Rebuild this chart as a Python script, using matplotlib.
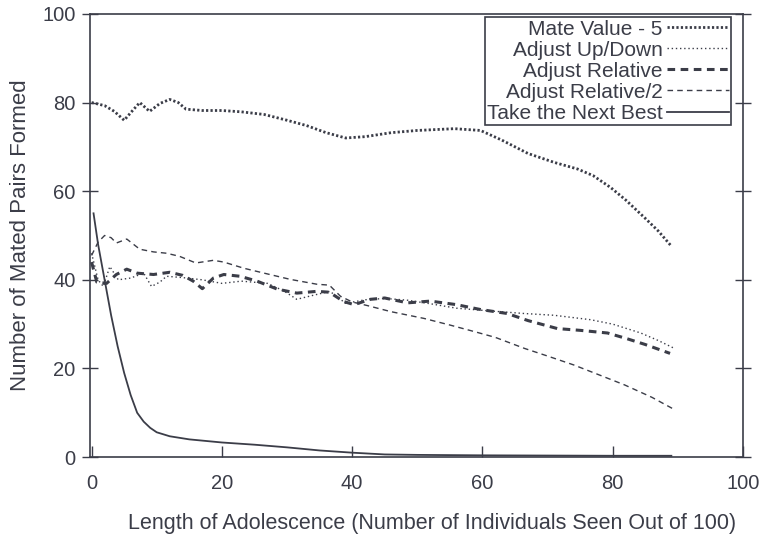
import matplotlib
matplotlib.use("Agg")
import matplotlib.pyplot as plt

plt.rcParams['font.family'] = ['Liberation Sans', 'DejaVu Sans']

# ---- data ----
mv_x = [0, 2, 3.5, 5, 6.3, 7.4, 8.9, 10.5, 12, 13.3, 14.5, 17, 20, 23, 26.5, 30, 33, 36, 39,
        42, 46, 50, 55.7, 59.7, 63, 67, 71, 74.6, 77, 79.7, 82, 84.9, 87, 89]
mv_y = [80, 79.3, 78, 76, 78.2, 80, 78, 79.8, 80.7, 80, 78.5, 78.2, 78.2, 77.9, 77.3, 76, 74.8, 73.2, 72,
        72.3, 73.2, 73.7, 74.1, 73.7, 71.5, 68.5, 66.5, 65, 63.5, 60.8, 58, 54, 51, 47.6]

ud_x = [0, 1, 1.8, 2.8, 4.1, 6, 8, 9.2, 10.5, 11.5, 14, 17, 20, 23, 27, 29.5, 31.5, 34, 36.6, 39,
        42, 45, 48.5, 52, 56, 61, 66.4, 71, 76.6, 80, 84.3, 87, 89.5]
ud_y = [46, 40, 38.5, 43, 40, 40.4, 41.5, 38.5, 39.5, 40.8, 40.5, 40, 39.2, 39.7, 39.2, 37.5, 35.6, 36.5, 37.4, 34.7,
        35.5, 35.8, 35.4, 34.6, 33.6, 33, 32.4, 32, 31, 30, 28, 26.3, 24.5]

ar_x = [0, 0.8, 2.3, 3.8, 5.4, 7, 9.5, 12, 14, 15.6, 17, 18.7, 20.3, 22.8, 25.4, 28.5, 31.5, 34.6, 36.5,
        38.7, 40.3, 42.8, 45, 48.5, 52, 56, 59.7, 63.8, 67, 71.5, 75, 79.2, 82, 85, 88.8]
ar_y = [44, 39.5, 39.2, 41.2, 42.4, 41.5, 41.2, 41.7, 41, 39.7, 38, 40.4, 41.2, 40.8, 39.7, 37.9, 37, 37.4, 37.2,
        35.1, 34.4, 35.6, 35.9, 34.8, 35.2, 34.4, 33.3, 32.4, 30.8, 29, 28.6, 28, 26.8, 25.4, 23.4]

ar2_x = [0, 1, 2, 3, 3.8, 5.4, 7.4, 9.5, 11.5, 13.5, 16, 18.7, 20.3, 23.4, 26.5, 30.5, 34.6, 36.5,
         38.2, 40, 42.3, 46, 51, 55, 58.8, 62, 66.5, 70, 74, 78, 81.8, 86, 89.5]
ar2_y = [45.5, 48.5, 50, 49.5, 48.3, 49.2, 46.9, 46.3, 46, 45.3, 43.8, 44.4, 44, 42.6, 41.5, 40.1, 39, 38.8,
         36.3, 35, 34.2, 32.8, 31.3, 29.8, 28.3, 27, 24.5, 22.8, 20.8, 18.5, 16.3, 13.5, 10.7]

nb_x = [0.3, 1, 2, 3, 4, 5, 6, 7, 8, 9, 10, 12, 15, 20, 25, 30, 35, 40, 45, 50, 60, 70, 80, 89]
nb_y = [55, 48, 40, 32, 25, 19, 14, 10, 8, 6.6, 5.6, 4.7, 4, 3.3, 2.8, 2.2, 1.5, 1.0, 0.6, 0.5, 0.4, 0.35, 0.3, 0.3]

labels = ["Mate Value - 5", "Adjust Up/Down", "Adjust Relative", "Adjust Relative/2", "Take the Next Best"]
x_ticks = [0, 20, 40, 60, 80, 100]
y_ticks = [0, 20, 40, 60, 80, 100]

ink = '#3b3d48'

fig = plt.figure(figsize=(7.66, 5.34), dpi=100)
ax = fig.add_axes([0.117, 0.144, 0.853, 0.830])

ax.plot(mv_x, mv_y, color=ink, lw=2.0, ls=(0, (0.8, 0.8)), label=labels[0])
ax.plot(ud_x, ud_y, color=ink, lw=1.0, ls=(0, (1, 2)), label=labels[1])
ax.plot(ar_x, ar_y, color=ink, lw=2.2, ls=(0, (2.5, 1.8)), label=labels[2])
ax.plot(ar2_x, ar2_y, color=ink, lw=1.0, ls=(0, (4, 3)), label=labels[3])
ax.plot(nb_x, nb_y, color=ink, lw=1.3, ls='-', label=labels[4])

ax.set_xlim(-0.3, 100)
ax.set_ylim(0, 100)
ax.set_xticks(x_ticks)
ax.set_yticks(y_ticks)
ax.tick_params(axis='y', which='both', direction='inout', length=12, width=1,
               right=True, left=True, labelsize=14.5, pad=4, colors=ink)
ax.tick_params(axis='x', which='both', direction='in', length=8, width=1,
               top=False, labelsize=14.5, pad=12, colors=ink)
for s in ax.spines.values():
    s.set_color(ink)
    s.set_linewidth(1.2)

ax.set_xlabel("Length of Adolescence (Number of Individuals Seen Out of 100)",
              fontsize=15.5, color=ink)
ax.xaxis.set_label_coords(0.524, -0.125)
ax.set_ylabel("Number of Mated Pairs Formed", fontsize=16, color=ink, labelpad=8)

leg = ax.legend(loc='upper right', bbox_to_anchor=(0.982, 0.992), markerfirst=False,
                fontsize=15, handlelength=3.0, handletextpad=0.2, labelspacing=0.1,
                borderpad=0.1, borderaxespad=0.0, fancybox=False, framealpha=1,
                edgecolor=ink, labelcolor=ink)
leg.get_frame().set_linewidth(1.2)
for t in leg.get_texts():
    t.set_ha('right')

fig.savefig("out.png", dpi=100)
